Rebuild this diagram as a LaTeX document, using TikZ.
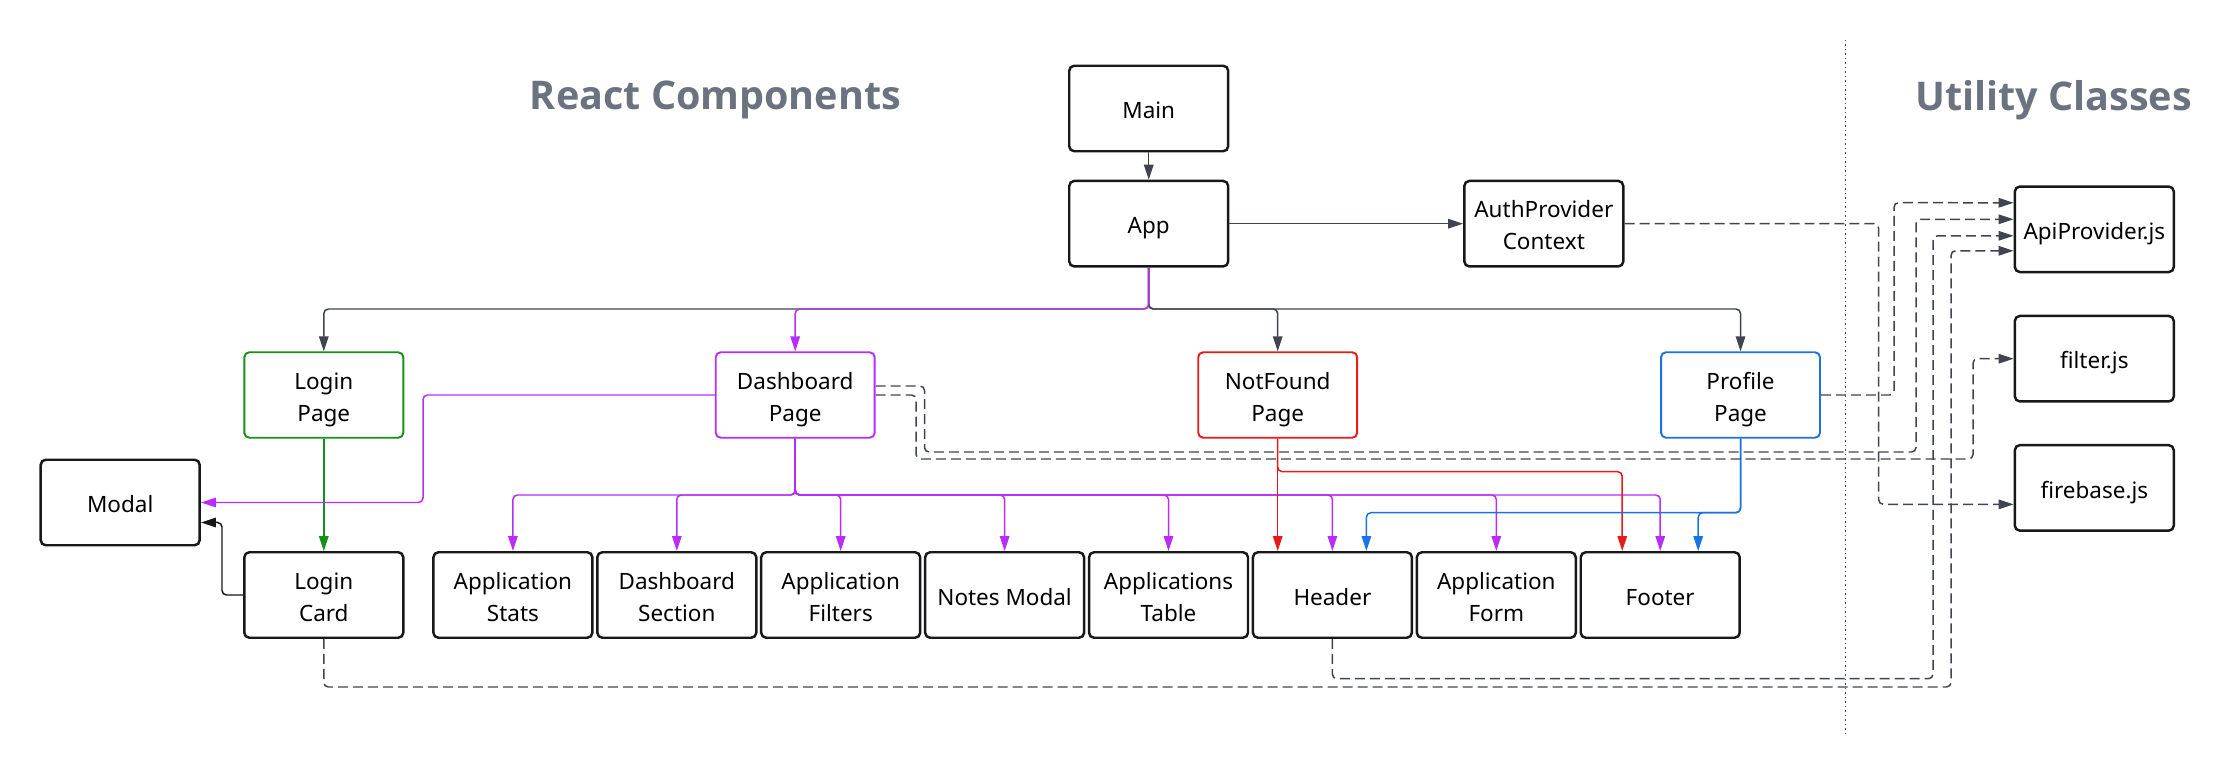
\documentclass[tikz,border=0pt]{standalone}
\usepackage{fontspec}
\setmainfont{Noto Sans}
\newfontfamily\titelschrift{Open Sans}
\usetikzlibrary{arrows.meta}

\definecolor{rahmen}{RGB}{24,24,27}
\definecolor{linie}{RGB}{64,68,80}
\definecolor{gruen}{RGB}{20,145,25}
\definecolor{lila}{RGB}{185,45,250}
\definecolor{rot}{RGB}{235,25,25}
\definecolor{blau}{RGB}{25,115,230}
\definecolor{titelgrau}{RGB}{107,114,128}

\def\h{0.02}
\def\punkt#1#2{
	({(#1)*\h},{(-#2)*\h})
}
\def\knick#1#2#3{
	\path \punkt{#2}{#3} coordinate (#1);
}
\def\zeilen#1{\rule{0pt}{15.7pt}#1\rule[-4pt]{0pt}{4pt}}

\tikzset{
	kasten/.style={draw=rahmen, line width=1.4pt, rounded corners=0.1cm, fill=white,
		minimum width=3.18cm, minimum height=1.71cm, inner sep=0pt, align=center,
		font=\fontsize{12.8}{18.2}\selectfont},
	farbkasten/.style={kasten, draw=#1, line width=1.1pt},
	titel/.style={inner sep=0pt, text=titelgrau, font=\titelschrift\bfseries\fontsize{22.5}{28}\selectfont},
	verbindung/.style={draw=#1, line width=0.85pt, rounded corners=0.09cm,
		-{Triangle[length=0.3cm,width=0.19cm]}},
	gestrichelt/.style={verbindung=linie, dash pattern=on 0.2cm off 0.1cm},
	punktiert/.style={draw=linie, line width=0.6pt, dash pattern=on 0.03cm off 0.06cm}
}

\begin{document}
\begin{tikzpicture}
\useasboundingbox \punkt{0}{0} rectangle \punkt{2240}{775};

% ueberschriften
\node[titel, anchor=base west] (reacttitel) at \punkt{529.6}{110} {React Components};
\node[titel, anchor=base west] (utiltitel) at \punkt{1915}{111} {Utility Classes};
\draw[punktiert] \punkt{1845.5}{40} -- \punkt{1845.5}{736};

% komponenten
\node[kasten] (main) at \punkt{1148.7}{108.5} {\zeilen{Main}};
\node[kasten] (app) at \punkt{1148.7}{223.7} {\zeilen{App}};
\node[kasten] (auth) at \punkt{1543.8}{223.7} {\zeilen{AuthProvider\\Context}};
\node[farbkasten=gruen] (lpage) at \punkt{323.8}{395} {\zeilen{Login\\Page}};
\node[farbkasten=lila] (dpage) at \punkt{795.2}{395} {\zeilen{Dashboard\\Page}};
\node[farbkasten=rot] (nfpage) at \punkt{1277.7}{395} {\zeilen{NotFound\\Page}};
\node[farbkasten=blau] (ppage) at \punkt{1740.5}{395} {\zeilen{Profile\\Page}};
\node[kasten] (modal) at \punkt{120.2}{502.5} {\zeilen{Modal}};
\node[kasten] (lcard) at \punkt{323.8}{595} {\zeilen{Login\\Card}};
\foreach \name/\beschriftung [count=\i from 0] in {
		stats/{Application\\Stats}, dsection/{Dashboard\\Section},
		filters/{Application\\Filters}, notes/{Notes Modal},
		table/{Applications\\Table}, header/{Header},
		form/{Application\\Form}, footer/{Footer}}{
	\node[kasten] (\name) at \punkt{512.9+163.9*\i}{595} {\expandafter\zeilen\expandafter{\beschriftung}};
}

% utility klassen
\node[kasten] (api) at \punkt{2094.3}{229.3} {\zeilen{ApiProvider.js}};
\node[kasten] (filterjs) at \punkt{2094.3}{358.7} {\zeilen{filter.js}};
\node[kasten] (firebase) at \punkt{2094.3}{487.9} {\zeilen{firebase.js}};

% knickpunkte
\knick{appbus}{1148.7}{309}
\knick{dbus}{795.2}{495}
\knick{nfbus}{1277.7}{471.7}
\knick{pbus}{1740.5}{512.7}
\knick{dmknick}{423}{450}
\knick{lcknick}{222}{560}
\knick{da1}{924.5}{452}
\knick{da2}{1916}{219.3}
\knick{df1}{916}{459}
\knick{df2}{1973}{358.7}
\knick{pa1}{1894}{202.7}
\knick{af1}{1878.7}{504.3}
\knick{ha1}{1933}{678.7}
\knick{la1}{1951}{687}

% hauptbaum
\draw[verbindung=linie] (main.south) -- (app.north);
\draw[verbindung=linie] (app.east) -- (auth.west);
\foreach \ziel in {lpage,nfpage,ppage}{
	\draw[verbindung=linie] (app.south) -- (appbus) -| (\ziel.north);
}
\draw[verbindung=lila] (app.south) -- (appbus) -| (dpage.north);

% seiten
\draw[verbindung=gruen] (lpage.south) -- (lcard.north);
\draw[verbindung=rahmen] (lcard.west) -| (lcknick) |- ([yshift=-0.4cm]modal.east);
\draw[verbindung=lila] (dpage.west) -| (dmknick) |- (modal.east);
\foreach \ziel in {stats,dsection,filters,notes,table,header,form,footer}{
	\draw[verbindung=lila] (dpage.south) -- (dbus) -| (\ziel.north);
}
\draw[verbindung=rot] (nfpage.south) -- (nfpage.south |- header.north);
\draw[verbindung=rot] (nfpage.south) -- (nfbus) -| ([xshift=-0.76cm]footer.north);
\draw[verbindung=blau] (ppage.south) -- (pbus) -| ([xshift=0.68cm]header.north);
\draw[verbindung=blau] (ppage.south) -- (pbus) -| ([xshift=0.76cm]footer.north);

% abhaengigkeiten
\draw[gestrichelt] ([yshift=0.18cm]dpage.east) -| (da1) -| (da2) -- ([yshift=0.2cm]api.west);
\draw[gestrichelt] (dpage.east) -| (df1) -| (df2) -- (filterjs.west);
\draw[gestrichelt] (ppage.east) -| (pa1) -- ([yshift=0.53cm]api.west);
\draw[gestrichelt] (auth.east) -| (af1) -- ([yshift=-0.33cm]firebase.west);
\draw[gestrichelt] (header.south) |- (ha1) |- ([yshift=-0.13cm]api.west);
\draw[gestrichelt] (lcard.south) |- (la1) |- ([yshift=-0.43cm]api.west);
\end{tikzpicture}
\end{document}
